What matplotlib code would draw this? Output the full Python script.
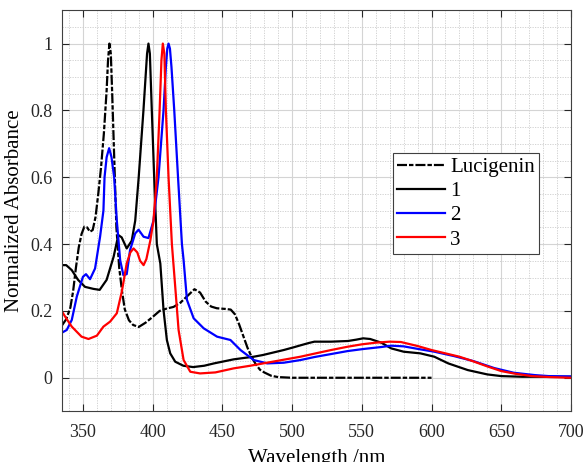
import matplotlib
matplotlib.use("Agg")
import matplotlib.pyplot as plt
from matplotlib.ticker import MultipleLocator

plt.rcParams['font.family'] = ['Liberation Serif', 'DejaVu Serif']

# Lucigenin (dash-dot)
wl_luc = [335, 338, 341, 343, 345, 347, 349, 351, 353, 355, 357, 359, 361, 363,
          365, 367, 368, 369, 370, 371, 372.5, 374, 376, 378, 380, 383, 386, 390,
          395, 400, 405, 410, 415, 420, 425, 430, 434, 438, 442, 446, 452, 456,
          459, 462, 465, 468, 471, 474, 477, 480, 485, 490, 500, 600]
ab_luc = [0.157, 0.175, 0.21, 0.26, 0.33, 0.39, 0.43, 0.452, 0.45, 0.437, 0.442,
          0.48, 0.55, 0.63, 0.73, 0.86, 0.95, 1.0, 0.97, 0.85, 0.65, 0.45, 0.33,
          0.26, 0.205, 0.172, 0.158, 0.152, 0.165, 0.182, 0.2, 0.207, 0.212,
          0.225, 0.245, 0.265, 0.255, 0.228, 0.213, 0.208, 0.206, 0.204, 0.19,
          0.16, 0.125, 0.09, 0.062, 0.04, 0.024, 0.016, 0.006, 0.002, 0.0, 0.0]

# compound 1 (black)
wl_1 = [335, 338, 342, 346.5, 351.5, 357.5, 362, 367, 372, 375.4, 377.8, 381.4,
        385, 387.5, 390, 393.4, 396, 397, 398, 399.4, 401.1, 403, 405.5, 407.8,
        410.2, 412.6, 416.2, 422, 429, 437, 444, 451, 458, 465, 472.5, 479, 487,
        494, 501, 506, 512, 516, 528, 540, 546, 551, 556, 564, 571, 580, 592,
        602, 612, 626, 640, 650, 665, 700]
ab_1 = [0.337, 0.337, 0.322, 0.293, 0.272, 0.266, 0.263, 0.293, 0.362, 0.427,
        0.42, 0.387, 0.41, 0.47, 0.6, 0.8, 0.97, 1.0, 0.97, 0.8, 0.6, 0.4,
        0.342, 0.203, 0.113, 0.073, 0.048, 0.036, 0.032, 0.036, 0.043, 0.049,
        0.055, 0.059, 0.063, 0.068, 0.076, 0.083, 0.091, 0.097, 0.104, 0.108,
        0.108, 0.11, 0.114, 0.118, 0.116, 0.105, 0.088, 0.078, 0.073, 0.063,
        0.043, 0.023, 0.01, 0.005, 0.003, 0.003]

# compound 2 (blue)
wl_2 = [335, 338.4, 342, 345.6, 350, 352.2, 355.1, 358.7, 362.3, 364.7, 365.5,
        367, 368.8, 370.5, 372.4, 374.3, 376.7, 379, 381.4, 383.8, 387.5, 389.9,
        393.5, 397, 400.6, 404.2, 407.8, 409.5, 410.5, 411.4, 412.4, 413.5,
        415.5, 418.2, 421, 422.2, 424.6, 429.4, 436.6, 446.2, 455.8, 463, 472.5,
        482.2, 494, 506, 516, 528, 540, 551, 564, 571, 580, 592, 602, 616, 630,
        645, 659, 674, 684, 700]
ab_2 = [0.135, 0.143, 0.173, 0.243, 0.302, 0.31, 0.295, 0.327, 0.422, 0.5,
        0.6, 0.66, 0.687, 0.66, 0.6, 0.47, 0.352, 0.307, 0.31, 0.382, 0.432,
        0.443, 0.422, 0.418, 0.47, 0.6, 0.8, 0.93, 0.985, 1.0, 0.985, 0.93,
        0.8, 0.6, 0.4, 0.352, 0.233, 0.178, 0.148, 0.123, 0.113, 0.083, 0.053,
        0.043, 0.045, 0.053, 0.062, 0.071, 0.08, 0.086, 0.092, 0.096, 0.094,
        0.085, 0.078, 0.065, 0.05, 0.029, 0.015, 0.008, 0.005, 0.004]

# compound 3 (red)
wl_3 = [335, 338, 342, 345.5, 349, 354, 360, 364.7, 369.5, 374.3, 377.9, 381.4,
        384, 386.3, 389, 391, 393.5, 395.5, 398.3, 400.6, 403, 405, 406.3,
        407.3, 408.4, 409.5, 411.4, 413.8, 416.2, 418.6, 422.2, 427, 434, 445,
        458, 470, 482, 494, 506, 518, 528, 540, 550, 560, 570, 578, 590, 600,
        610, 620, 628, 640, 650, 660, 672, 685, 700]
ab_3 = [0.198, 0.178, 0.153, 0.138, 0.123, 0.116, 0.126, 0.153, 0.168, 0.193,
        0.258, 0.342, 0.375, 0.387, 0.375, 0.35, 0.337, 0.355, 0.41, 0.47, 0.6,
        0.8, 0.95, 1.0, 0.97, 0.8, 0.6, 0.4, 0.272, 0.143, 0.053, 0.018, 0.013,
        0.016, 0.028, 0.036, 0.045, 0.054, 0.063, 0.074, 0.083, 0.093, 0.1,
        0.105, 0.108, 0.107, 0.095, 0.083, 0.073, 0.063, 0.052, 0.034, 0.02,
        0.012, 0.005, 0.002, 0.0]

x_ticks = [350, 400, 450, 500, 550, 600, 650, 700]
y_ticks = [0, 0.2, 0.4, 0.6, 0.8, 1]
y_tick_labels = ['0', '0.2', '0.4', '0.6', '0.8', '1']

fig = plt.figure(figsize=(5.85, 4.62), dpi=100)
ax = fig.add_axes([0.106, 0.110, 0.870, 0.868])

lw = 1.6
ax.plot(wl_luc, ab_luc, color='black', lw=lw,
        linestyle=(0, (4.5, 0.9, 2.0, 0.9)), label='Lucigenin')
ax.plot(wl_1, ab_1, color='black', lw=lw, label='1')
ax.plot(wl_2, ab_2, color='blue', lw=lw, label='2')
ax.plot(wl_3, ab_3, color='red', lw=lw, label='3')

ax.set_xlim(335, 700)
ax.set_ylim(-0.1, 1.1)
ax.set_xticks(x_ticks)
ax.set_yticks(y_ticks)
ax.set_yticklabels(y_tick_labels)
ax.xaxis.set_minor_locator(MultipleLocator(10))
ax.yaxis.set_minor_locator(MultipleLocator(0.05))

# MATLAB-like grid and ticks
ax.grid(which='major', color='#d4d4d4', lw=0.8, linestyle='-')
ax.grid(which='minor', color='#cccccc', lw=0.6, linestyle=(0, (1.5, 1.5)))
ax.set_axisbelow(True)
ax.tick_params(which='major', direction='in', length=5, width=0.8,
               top=True, right=True, labelsize=13, colors='#262626')
ax.tick_params(axis='x', which='major', pad=9)
ax.tick_params(axis='y', which='major', pad=7)
ax.tick_params(which='minor', length=0, top=True, right=True)
for s in ax.spines.values():
    s.set_color('#404040')
    s.set_linewidth(0.8)

ax.set_xlabel('Wavelength /nm', fontsize=15, labelpad=6)
ax.set_ylabel('Normalized Absorbance', fontsize=15, labelpad=4)

leg = ax.legend(loc='upper left', bbox_to_anchor=(0.65, 0.643),
                borderaxespad=0, fontsize=15, handlelength=2.3,
                handletextpad=0.25, labelspacing=0.22, borderpad=0.2,
                fancybox=False, framealpha=1, edgecolor='#404040')
leg.get_frame().set_linewidth(0.8)

fig.savefig('out.png', dpi=100)
